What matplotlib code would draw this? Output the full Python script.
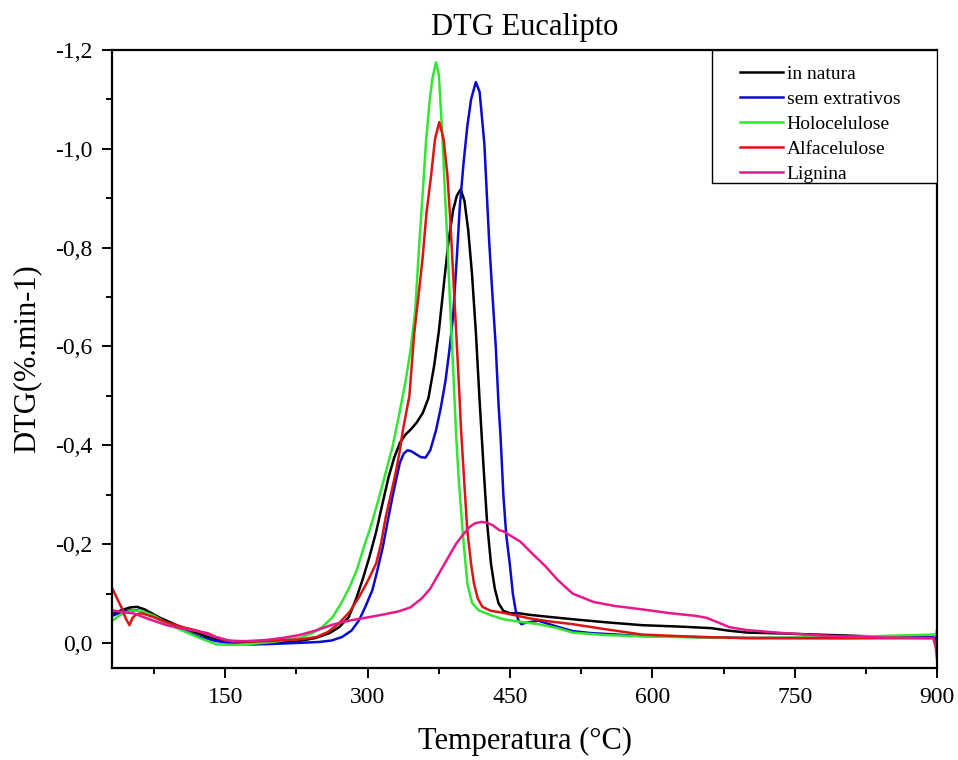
import numpy as np
import matplotlib
matplotlib.use("Agg")
import matplotlib.pyplot as plt
from matplotlib.patches import Rectangle
from matplotlib.ticker import MultipleLocator

plt.rcParams['font.family'] = ['Liberation Serif', 'DejaVu Serif']

# values (temperature in C, DTG in %/min)
t_natura = [31, 40, 50, 57, 65, 80, 100, 123, 140, 160, 180, 200, 225, 245, 260, 270, 280, 288, 295,
            302, 309, 316, 322, 328, 334, 340, 346, 352, 358, 364, 370, 375, 380, 385, 390, 394, 398,
            402, 406, 410, 414, 418, 422, 426, 430, 434, 438, 443, 450, 460, 470, 490, 516, 550, 589,
            630, 662, 680, 700, 740, 772, 820, 860, 896, 900]
dtg_natura = [-0.058, -0.066, -0.072, -0.073, -0.068, -0.052, -0.035, -0.018, -0.007, -0.002, 0.0, 0.0,
              -0.003, -0.010, -0.020, -0.032, -0.052, -0.09, -0.13, -0.175, -0.225, -0.285, -0.335,
              -0.375, -0.405, -0.422, -0.433, -0.447, -0.465, -0.495, -0.56, -0.63, -0.72, -0.81,
              -0.875, -0.905, -0.918, -0.895, -0.835, -0.746, -0.63, -0.49, -0.36, -0.24, -0.16,
              -0.11, -0.08, -0.065, -0.06, -0.06, -0.057, -0.053, -0.048, -0.042, -0.036, -0.033,
              -0.030, -0.025, -0.021, -0.019, -0.017, -0.014, -0.012, -0.0115, -0.005]

t_sem = [31, 40, 50, 57, 65, 80, 100, 123, 140, 160, 180, 200, 225, 249, 262, 273, 283, 291, 298, 305,
         310, 316, 321, 326, 330, 334, 338, 342, 346, 351, 356, 361, 366, 372, 377, 382, 386, 390, 394,
         397, 401, 405, 409, 414, 418, 423, 428, 431, 435, 438, 440, 443, 446, 450, 453, 456, 459, 462,
         465, 470, 480, 498, 516, 535, 589, 650, 700, 800, 896, 899, 900]
dtg_sem = [-0.055, -0.062, -0.066, -0.066, -0.062, -0.048, -0.03, -0.012, -0.004, 0.002, 0.003, 0.002,
           0.0, -0.002, -0.005, -0.012, -0.025, -0.046, -0.075, -0.107, -0.145, -0.194, -0.245, -0.294,
           -0.33, -0.365, -0.383, -0.39, -0.388, -0.382, -0.376, -0.375, -0.39, -0.43, -0.475, -0.53,
           -0.59, -0.66, -0.78, -0.88, -0.97, -1.045, -1.1, -1.135, -1.115, -1.01, -0.815, -0.72, -0.6,
           -0.48, -0.42, -0.30, -0.22, -0.156, -0.10, -0.066, -0.045, -0.038, -0.04, -0.042, -0.045,
           -0.034, -0.024, -0.02, -0.014, -0.012, -0.010, -0.010, -0.0115, -0.005, -0.025]

t_holo = [31, 38, 45, 53, 62, 75, 88, 105, 123, 141, 160, 176, 200, 228, 242, 252, 263, 272, 281, 289,
          296, 304, 312, 319, 326, 333, 340, 345, 350, 354.5, 358, 361.5, 365, 368, 372, 375, 378.7,
          381, 384, 387, 390, 393, 396, 400, 405, 410, 417, 430, 443, 460, 480, 500, 516, 550, 589,
          650, 700, 800, 896, 900]
dtg_holo = [-0.045, -0.055, -0.062, -0.066, -0.064, -0.055, -0.04, -0.025, -0.01, 0.003, 0.004, 0.002,
            -0.002, -0.010, -0.020, -0.032, -0.052, -0.08, -0.113, -0.15, -0.194, -0.24, -0.294,
            -0.345, -0.395, -0.46, -0.53, -0.59, -0.67, -0.81, -0.91, -1.014, -1.09, -1.14, -1.175,
            -1.15, -1.03, -0.93, -0.81, -0.68, -0.56, -0.43, -0.33, -0.228, -0.121, -0.081, -0.066,
            -0.056, -0.048, -0.043, -0.038, -0.03, -0.021, -0.016, -0.0135, -0.011, -0.010, -0.012,
            -0.017, -0.017]

t_alfa = [31, 36, 41, 45, 49, 52, 56, 62, 75, 88, 105, 118, 125, 131, 140, 150, 176, 200, 211, 228, 246,
          258, 270, 281, 291, 300, 309, 314, 319, 325, 330, 334, 337, 341, 344, 349, 354, 358, 362, 367,
          371, 375.5, 380, 384, 387, 390, 393, 396, 398.5, 402, 405, 409, 412, 416, 421, 430, 443, 470,
          490, 516, 550, 589, 650, 699, 800, 896, 900]
dtg_alfa = [-0.11, -0.09, -0.07, -0.05, -0.036, -0.05, -0.058, -0.06, -0.052, -0.042, -0.032, -0.026,
            -0.022, -0.02, -0.012, -0.005, -0.003, -0.004, -0.006, -0.007, -0.012, -0.022, -0.040,
            -0.063, -0.093, -0.125, -0.161, -0.2, -0.254, -0.305, -0.349, -0.39, -0.429, -0.47, -0.5,
            -0.625, -0.71, -0.78, -0.87, -0.948, -1.02, -1.054, -1.02, -0.948, -0.86, -0.75, -0.64,
            -0.53, -0.429, -0.32, -0.228, -0.16, -0.121, -0.09, -0.073, -0.065, -0.061, -0.05, -0.044,
            -0.038, -0.028, -0.017, -0.012, -0.010, -0.0095, -0.0095, 0.015]

t_lig = [31, 40, 53, 70, 88, 105, 123, 140, 158, 175, 193, 210, 228, 245, 263, 280, 298, 315, 333, 345,
         357, 366, 375, 384, 393, 400, 407, 413, 420, 426, 432, 439, 443, 455, 461, 475, 487, 500, 516,
         538, 560, 589, 620, 645, 657, 670, 681, 700, 735, 770, 808, 850, 896, 898, 900]
dtg_lig = [-0.066, -0.063, -0.060, -0.048, -0.036, -0.029, -0.023, -0.012, -0.003, -0.004, -0.006,
           -0.010, -0.016, -0.025, -0.037, -0.045, -0.051, -0.057, -0.064, -0.072, -0.09, -0.11, -0.14,
           -0.17, -0.20, -0.218, -0.234, -0.242, -0.245, -0.243, -0.238, -0.228, -0.226, -0.212,
           -0.205, -0.178, -0.156, -0.128, -0.100, -0.083, -0.075, -0.068, -0.06, -0.055, -0.051,
           -0.041, -0.032, -0.026, -0.0205, -0.016, -0.0125, -0.011, -0.010, 0.0, 0.032]

series = [
    ("in natura", t_natura, dtg_natura, "#000000"),
    ("sem extrativos", t_sem, dtg_sem, "#0a0ad2"),
    ("Holocelulose", t_holo, dtg_holo, "#33e633"),
    ("Alfacelulose", t_alfa, dtg_alfa, "#dc1414"),
    ("Lignina", t_lig, dtg_lig, "#e6198c"),
]

y_ticks = [-1.2, -1.0, -0.8, -0.6, -0.4, -0.2, 0.0]
y_tick_labels = ["-1,2", "-1,0", "-0,8", "-0,6", "-0,4", "-0,2", "0,0"]
x_ticks = [150, 300, 450, 600, 750, 900]

fig = plt.figure(figsize=(9.58, 7.6), dpi=100)
ax = fig.add_axes([0.1169, 0.1211, 0.8612, 0.8132])

for name, t, d, c in series:
    ax.plot(t, d, color=c, lw=1.8, label=name)

ax.set_xlim(30.6, 900)
ax.set_ylim(0.0506, -1.2)
ax.set_xticks(x_ticks)
ax.xaxis.set_minor_locator(MultipleLocator(75))
ax.set_yticks(y_ticks)
ax.set_yticklabels(y_tick_labels)
ax.yaxis.set_minor_locator(MultipleLocator(0.1))
ax.tick_params(which='major', direction='out', length=7, width=1.4, labelsize=17, pad=7)
ax.tick_params(which='minor', direction='out', length=4, width=1.4)
for s in ax.spines.values():
    s.set_linewidth(1.6)

ax.set_title("DTG Eucalipto", fontsize=22, pad=11)
ax.set_xlabel("Temperatura (°C)", fontsize=22, labelpad=13)
ax.set_ylabel("DTG(%.min-1)", fontsize=22, labelpad=10)

# legend box drawn separately, flush with top right corner
ax.add_patch(Rectangle((0.727, 0.785), 0.273, 0.215, transform=ax.transAxes,
                       facecolor='white', edgecolor='black', lw=1.0, zorder=4))
leg = ax.legend(loc='upper left', bbox_to_anchor=(0.761, 0.975), frameon=False,
                fontsize=14, borderpad=0, handlelength=2.2, handletextpad=0.2,
                labelspacing=0.38, borderaxespad=0)
leg.set_zorder(5)

fig.savefig("out.png", dpi=100)
